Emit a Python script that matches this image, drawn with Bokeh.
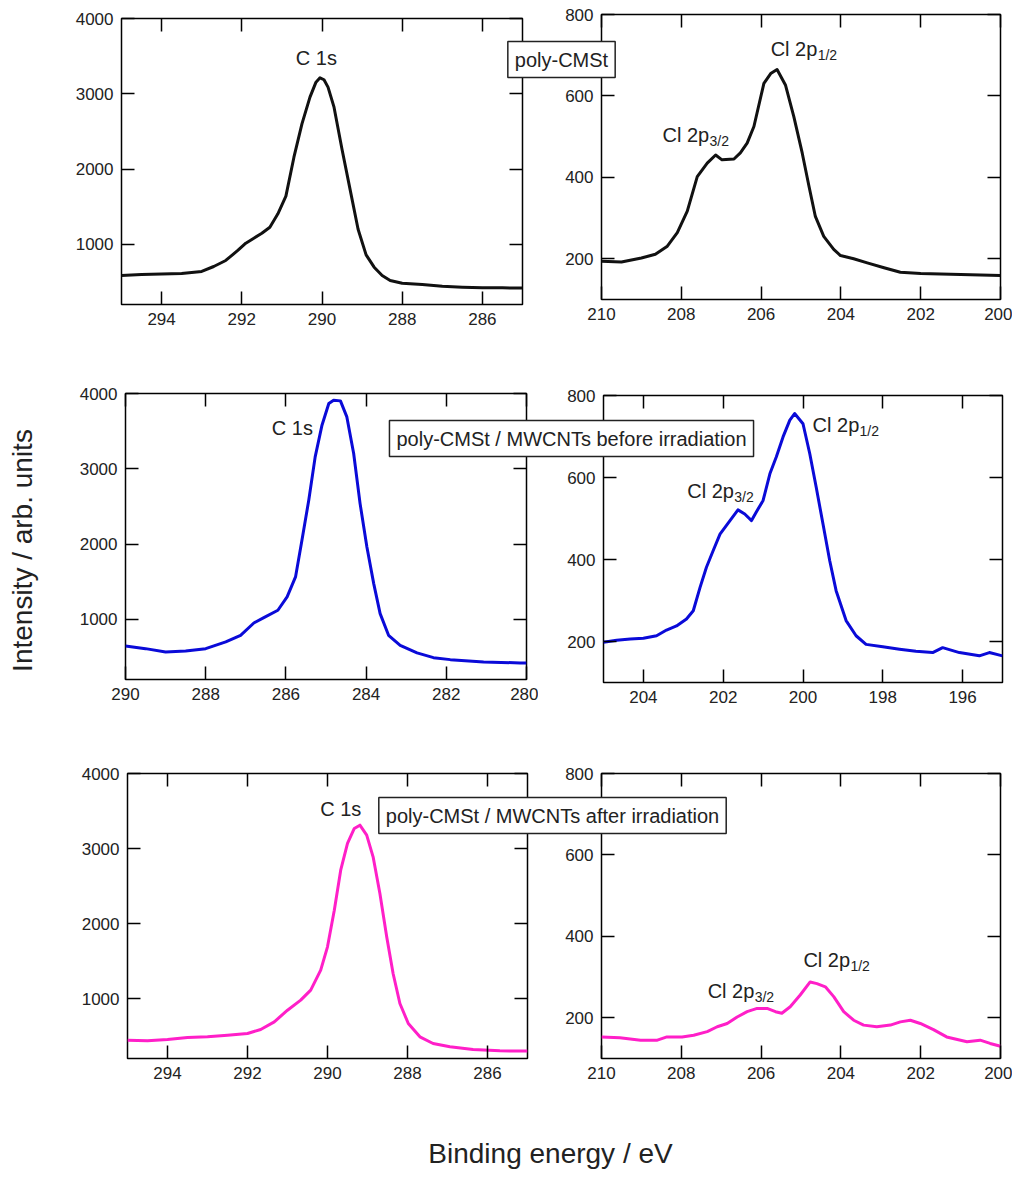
from bokeh.plotting import figure
from bokeh.models import Range1d, FixedTicker, LinearAxis, Label
from bokeh.layouts import column
from bokeh.embed import file_html
from bokeh.resources import INLINE
import math

FONT = "Liberation Sans"
TEXT = "#222222"

# poly-CMSt
c1s_poly_x = [295.0, 294.5, 294.0, 293.5, 293.0, 292.7, 292.4, 292.1, 291.9, 291.7, 291.5, 291.3,
              291.1, 290.9, 290.7, 290.5, 290.3, 290.15, 290.05, 289.95, 289.85, 289.7, 289.5,
              289.3, 289.1, 288.9, 288.7, 288.5, 288.3, 288.0, 287.5, 287.0, 286.5, 286.0,
              285.5, 285.0]
c1s_poly_y = [585, 600, 605, 612, 640, 705, 785, 918, 1015, 1081, 1147, 1227,
              1405, 1640, 2157, 2600, 2955, 3154, 3212, 3186, 3088, 2822, 2260,
              1730, 1200, 860, 696, 585, 519, 483, 466, 443, 430, 421,
              421, 420]
cl2p_poly_x = [210.0, 209.5, 209.0, 208.65, 208.35, 208.1, 207.85, 207.6, 207.35, 207.14, 206.98,
               206.68, 206.52, 206.35, 206.18, 205.93, 205.76, 205.6, 205.39, 205.18, 204.97,
               204.8, 204.64, 204.43, 204.18, 204.01, 203.68, 203.34, 202.92, 202.51, 202.0,
               201.25, 200.0]
cl2p_poly_y = [194, 192, 202, 211, 231, 264, 317, 402, 435, 455, 443,
               445, 460, 484, 525, 631, 655, 665, 627, 549, 460,
               378, 304, 255, 223, 208, 200, 190, 178, 167, 164,
               162, 159]

# poly-CMSt / MWCNTs before irradiation
c1s_before_x = [290.0, 289.5, 289.0, 288.5, 288.0, 287.5, 287.13, 286.8, 286.55, 286.2, 285.97,
                285.76, 285.6, 285.43, 285.27, 285.1, 284.93, 284.81, 284.64, 284.48, 284.31,
                284.15, 283.98, 283.81, 283.65, 283.44, 283.15, 282.73, 282.32, 281.9, 281.07,
                280.16, 280.0]
c1s_before_y = [646, 610, 566, 579, 610, 699, 787, 951, 1022, 1120, 1297,
                1563, 2050, 2582, 3158, 3579, 3867, 3911, 3902, 3689, 3202,
                2537, 1961, 1474, 1075, 787, 654, 553, 490, 464, 433,
                420, 420]
cl2p_before_x = [205.0, 204.67, 204.33, 204.0, 203.67, 203.42, 203.17, 202.92, 202.75, 202.58,
                 202.42, 202.25, 202.08, 201.83, 201.63, 201.46, 201.29, 201.17, 201.0, 200.83,
                 200.67, 200.5, 200.33, 200.21, 200.0, 199.83, 199.67, 199.5, 199.33, 199.17,
                 198.92, 198.67, 198.42, 198.0, 197.58, 197.17, 196.75, 196.5, 196.08, 195.58,
                 195.33, 195.0]
cl2p_before_y = [198, 203, 206, 208, 214, 228, 238, 255, 275, 332,
                 381, 422, 462, 495, 521, 511, 495, 516, 544, 609,
                 650, 699, 740, 756, 731, 658, 577, 487, 397, 324,
                 251, 214, 193, 187, 181, 176, 173, 185, 173, 165,
                 173, 165]

# poly-CMSt / MWCNTs after irradiation
c1s_after_x = [295.0, 294.5, 294.0, 293.5, 293.0, 292.5, 292.0, 291.67, 291.33, 291.0, 290.67,
               290.42, 290.17, 290.0, 289.83, 289.67, 289.5, 289.33, 289.19, 289.02, 288.86,
               288.69, 288.52, 288.36, 288.19, 287.98, 287.69, 287.36, 286.94, 286.36, 285.69,
               285.0]
c1s_after_y = [444, 436, 453, 480, 489, 511, 533, 587, 689, 844, 978,
               1111, 1378, 1689, 2178, 2711, 3067, 3267, 3311, 3178, 2889,
               2400, 1822, 1333, 933, 667, 489, 400, 356, 320, 302,
               300]
cl2p_after_x = [210.0, 209.54, 209.02, 208.6, 208.36, 207.98, 207.69, 207.35, 207.1, 206.85,
                206.6, 206.35, 206.1, 205.85, 205.64, 205.48, 205.27, 205.02, 204.77, 204.6,
                204.39, 204.18, 203.93, 203.68, 203.43, 203.1, 202.76, 202.51, 202.26, 202.01,
                201.68, 201.35, 200.84, 200.51, 200.26, 200.0]
cl2p_after_y = [153, 151, 145, 145, 153, 153, 157, 166, 178, 186,
                202, 215, 223, 223, 215, 211, 227, 256, 288, 284,
                276, 252, 215, 194, 182, 178, 182, 190, 194, 186,
                171, 153, 141, 145, 137, 130]

c1s_ticks_a = [294, 292, 290, 288, 286]
c1s_ticks_b = [290, 288, 286, 284, 282, 280]
cl2p_ticks_a = [210, 208, 206, 204, 202, 200]
cl2p_ticks_b = [204, 202, 200, 198, 196]
c1s_yticks = [1000, 2000, 3000, 4000]
cl2p_yticks = [200, 400, 600, 800]

sample_names = ["poly-CMSt", "poly-CMSt / MWCNTs before irradiation",
                "poly-CMSt / MWCNTs after irradiation"]

# same borders on every panel: the column layout lines frames up on the widest one
BL, BR, BT, BB = 130, 12, 15, 45


def panel(xs, ys, color, xr, yr, xticks, yticks, frame):
    # frame = (left, top, width, height) of the plot area in page pixels
    left, top, w, h = frame
    p = figure(frame_width=w, frame_height=h, x_range=Range1d(*xr), y_range=Range1d(*yr),
               output_backend="svg", toolbar_location=None,
               min_border_left=BL, min_border_right=BR, min_border_top=BT, min_border_bottom=BB)
    p.styles = {"position": "absolute", "left": f"{left - BL}px", "top": f"{top - BT}px"}
    p.border_fill_alpha = 0
    p.background_fill_color = "white"
    p.outline_line_color = "black"
    p.outline_line_width = 1.5
    p.grid.visible = False
    p.add_layout(LinearAxis(), "above")
    p.add_layout(LinearAxis(), "right")
    for ax in p.xaxis:
        ax.ticker = FixedTicker(ticks=xticks)
    for ax in p.yaxis:
        ax.ticker = FixedTicker(ticks=yticks)
    for ax in p.axis:
        ax.axis_line_color = None
        ax.major_tick_in = 13
        ax.major_tick_out = 0
        ax.major_tick_line_width = 1.5
        ax.minor_tick_line_color = None
        ax.major_label_text_font = FONT
        ax.major_label_text_font_size = "17px"
        ax.major_label_text_color = TEXT
        ax.major_label_standoff = 8
    # mirrored axes: ticks only
    for ax in (p.above[0], p.right[0]):
        ax.major_label_text_font_size = "1px"
        ax.major_label_text_color = None
        ax.major_label_standoff = 0
    p.line(xs, ys, line_color=color, line_width=3, line_join="round")
    return p


def peak_label(p, x, y, text, sub=None):
    p.add_layout(Label(x=x, y=y, text=text, text_font=FONT, text_font_size="20px",
                       text_align="left" if sub else "center", text_baseline="middle",
                       text_color=TEXT))
    if sub:
        p.add_layout(Label(x=x, y=y, text=sub, text_font=FONT, text_font_size="14px",
                           x_offset=47, y_offset=-6, text_align="left", text_baseline="middle",
                           text_color=TEXT))


black, blue, magenta = "#111111", "#0a0ad8", "#ff1fc8"

p1 = panel(c1s_poly_x, c1s_poly_y, black, (295, 285), (200, 4000), c1s_ticks_a, c1s_yticks,
           (121, 18, 401, 286))
peak_label(p1, 290.14, 3480, "C 1s")
p2 = panel(cl2p_poly_x, cl2p_poly_y, black, (210, 200), (100, 800), cl2p_ticks_a, cl2p_yticks,
           (601, 14, 399, 285))
peak_label(p2, 205.76, 716, "Cl 2p", "1/2")
peak_label(p2, 208.47, 503, "Cl 2p", "3/2")

p3 = panel(c1s_before_x, c1s_before_y, blue, (290, 280), (200, 4000), c1s_ticks_b, c1s_yticks,
           (125, 393, 401, 286))
peak_label(p3, 285.84, 3535, "C 1s")

p4 = panel(cl2p_before_x, cl2p_before_y, blue, (205, 195), (100, 800), cl2p_ticks_b, cl2p_yticks,
           (603, 395, 399, 287))
peak_label(p4, 199.76, 727, "Cl 2p", "1/2")
peak_label(p4, 202.9, 568, "Cl 2p", "3/2")

p5 = panel(c1s_after_x, c1s_after_y, magenta, (295, 285), (200, 4000), c1s_ticks_a, c1s_yticks,
           (127, 773, 400, 285))
peak_label(p5, 289.67, 3533, "C 1s")
p6 = panel(cl2p_after_x, cl2p_after_y, magenta, (210, 200), (100, 800), cl2p_ticks_a, cl2p_yticks,
           (601, 773, 399, 285))
peak_label(p6, 204.94, 341, "Cl 2p", "1/2")
peak_label(p6, 207.34, 267, "Cl 2p", "3/2")

# separate root on top of the panels for the boxes that straddle two panels
# and for the shared axis titles; its data units are page pixels
ov = figure(width=1024, height=1178, x_range=Range1d(0, 1024), y_range=Range1d(1178, 0),
            x_axis_type=None, y_axis_type=None, min_border=0, output_backend="svg",
            toolbar_location=None)
ov.styles = {"position": "absolute", "left": "0px", "top": "0px"}
ov.outline_line_color = None
ov.background_fill_alpha = 0
ov.border_fill_alpha = 0

box_pos = [(561, 59), (571, 438), (552, 815)]
for name, (bx, by) in zip(sample_names, box_pos):
    ov.add_layout(Label(x=bx, y=by, text=name, text_font=FONT, text_font_size="20px",
                        text_align="center", text_baseline="middle", text_color=TEXT,
                        background_fill_color="white", border_line_color=TEXT,
                        border_line_width=1.5, padding=7))
ov.add_layout(Label(x=550, y=1153, text="Binding energy / eV", text_font=FONT,
                    text_font_size="28px", text_align="center", text_baseline="middle",
                    text_color=TEXT))
ov.add_layout(Label(x=22, y=550, text="Intensity / arb. units", angle=math.pi / 2,
                    text_font=FONT, text_font_size="28px", text_align="center",
                    text_baseline="middle", text_color=TEXT))

layout = column(children=[p1, p2, p3, p4, p5, p6], width=1008, height=1100, sizing_mode="fixed")

open("out.html", "w").write(file_html([layout, ov], INLINE))
